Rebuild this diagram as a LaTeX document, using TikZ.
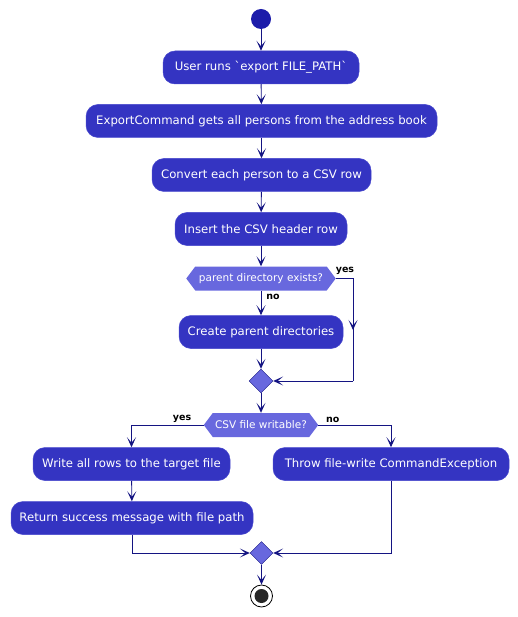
\documentclass[tikz,border=0pt]{standalone}
\usepackage{fontspec}
\setmainfont{DejaVu Sans}[Ligatures=TeXOff]
\usetikzlibrary{arrows.meta,shapes.geometric,calc}
\definecolor{boxfill}{RGB}{52,52,194}
\definecolor{boxedge}{RGB}{70,70,205}
\definecolor{dfill}{RGB}{104,104,222}
\definecolor{lcol}{RGB}{20,20,130}
\definecolor{startfill}{RGB}{28,28,170}
\begin{document}
\begin{tikzpicture}[x=1pt,y=-1pt,
  act/.style={draw=boxedge,line width=0.5pt,fill=boxfill,rounded corners=12pt,
    minimum height=33pt,text=white,font=\fontsize{11.7}{13}\selectfont,inner sep=0pt},
  dec/.style={minimum height=24pt,inner sep=0pt,text=white,font=\fontsize{10.5}{12}\selectfont},
  hexfill/.style={fill=dfill},
  mrg/.style={diamond,aspect=1,draw=lcol,line width=0.4pt,fill=dfill,minimum size=24pt,inner sep=0pt},
  line/.style={draw=lcol,line width=0.9pt},
  arr/.style={line,-{Stealth[length=10pt,width=9pt,inset=5.5pt]}},
  lab/.style={font=\bfseries\fontsize{9.5}{10}\selectfont,text=black,inner sep=0pt}]
\useasboundingbox (0,0) rectangle (517,617);
\node[circle,fill=startfill,minimum size=20pt,inner sep=0pt] (start) at (261,19) {};
\node[act,minimum width=196pt] (b1) at (261,67.5) {User runs `export FILE\_PATH`};
\node[act,minimum width=351pt] (b2) at (261.5,121) {ExportCommand gets all persons from the address book};
\node[act,minimum width=219pt] (b3) at (261.5,175) {Convert each person to a CSV row};
\node[act,minimum width=172pt] (b4) at (261,229) {Insert the CSV header row};
\node[dec,minimum width=149pt] (d1) at (261,278.5) {};
\fill[hexfill] (d1.west) -- ($(d1.west)+(9,-12)$) -- ($(d1.east)+(-9,-12)$) -- (d1.east)
  -- ($(d1.east)+(-9,12)$) -- ($(d1.west)+(9,12)$) -- cycle;
\node[dec] (d1t) at (d1) {parent directory exists?};
\node[act,minimum width=164pt] (b5) at (261,332) {Create parent directories};
\node[mrg] (m1) at (261,381) {};
\node[dec,minimum width=114pt] (d2) at (261,425) {};
\fill[hexfill] (d2.west) -- ($(d2.west)+(9,-12)$) -- ($(d2.east)+(-9,-12)$) -- (d2.east)
  -- ($(d2.east)+(-9,12)$) -- ($(d2.west)+(9,12)$) -- cycle;
\node[dec] (d2t) at (d2) {CSV file writable?};
\node[act,minimum width=197pt] (b6) at (131.5,464) {Write all rows to the target file};
\node[act,minimum width=236pt] (b7) at (391,464) {Throw file-write CommandException};
\node[act,minimum width=242pt] (b8) at (132,518) {Return success message with file path};
\node[mrg,minimum size=23pt] (m2) at (261.5,553) {};
\node[circle,draw=black,line width=0.8pt,fill=white,minimum size=22pt,inner sep=0pt] (end) at (261.5,596) {};
\node[circle,fill=black!85,minimum size=14pt,inner sep=0pt] (endin) at (end) {};
% connectors
\draw[arr] (start) -- (b1);
\draw[arr] (b1) -- (b2);
\draw[arr] (b2) -- (b3);
\draw[arr] (b3) -- (b4);
\draw[arr] (b4) -- (d1);
\draw[arr] (d1) -- node[lab,right=5pt,pos=0.25] {no} (b5);
\node[lab] (yes1) at (345,271) {yes};
\coordinate (y1) at (353,278.5);
\coordinate (y2) at (353,381);
\coordinate (ym) at (353,330);
\draw[line] (d1.east) -- (y1) -- (y2);
\draw[arr] (y1) -- (ym);
\draw[arr] (y2) -- (m1.east);
\draw[arr] (b5) -- (m1);
\draw[arr] (m1) -- (d2);
\draw[arr] (d2.west) -| node[lab,pos=0.15,above=2pt] {yes} (b6.north);
\draw[arr] (d2.east) -| node[lab,pos=0.1,above=2pt] {no} (b7.north);
\draw[arr] (b6) -- (b8);
\draw[arr] (b8.south) |- (m2.west);
\draw[arr] (b7.south) |- (m2.east);
\draw[arr] (m2) -- (end);
\end{tikzpicture}
\end{document}
